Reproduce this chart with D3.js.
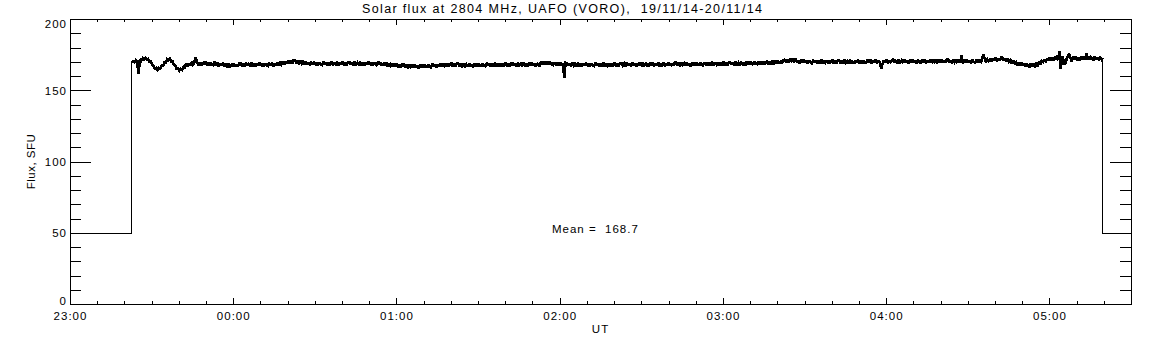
<!DOCTYPE html>
<html><head><meta charset="utf-8">
<script src="https://cdn.jsdelivr.net/npm/d3@7"></script>
<style>
html,body{margin:0;padding:0;background:#fff;}
svg{display:block;}
</style></head><body>
<svg id="chart" width="1152" height="345"></svg>
<script>
// ---------- data ----------
const titleText = "Solar flux at 2804 MHz, UAFO (VORO),  19/11/14-20/11/14";
const xAxisTitle = "UT";
const yAxisTitle = "Flux, SFU";
const meanLabel = "Mean =  168.7";
const xDomain = ["2014-11-19T23:00:00Z", "2014-11-20T05:30:00Z"];
const yDomain = [0, 200];
const yMajorTicks = [0, 50, 100, 150, 200];
const yMinorStep = 10;
const xMajorTicks = ["23:00", "00:00", "01:00", "02:00", "03:00", "04:00", "05:00"];
const xMinorMinutes = 10;
const offLevel = 50;
const fluxStart = "2014-11-19T23:22:30Z";
const fluxEnd = "2014-11-20T05:19:30Z";
const fluxStepSeconds = 30;
const flux = [
170.0,170.9,170.1,171.5,170.4,161.5,172.1,171.2,172.8,172.0,173.2,171.7,172.3,170.3,170.5,168.1,167.7,165.6,166.1,164.6,
165.9,165.4,167.5,167.4,169.8,169.8,172.1,171.5,172.6,170.6,170.5,167.9,167.8,165.4,165.7,164.0,165.3,164.7,166.8,166.5,
168.9,167.4,169.4,167.4,170.2,168.3,169.7,173.4,170.3,168.0,169.5,167.6,170.1,168.3,170.5,168.1,169.8,167.8,170.0,168.5,
168.0,170.2,168.1,169.8,167.2,169.1,167.5,169.7,167.0,168.9,167.4,169.1,166.6,168.7,167.0,169.3,166.8,168.6,167.0,169.2,
169.2,167.2,169.0,166.8,169.5,167.5,168.9,167.1,169.5,167.2,168.7,166.8,169.4,167.6,169.8,167.4,169.1,167.1,169.3,167.8,
167.3,169.6,167.7,169.5,167.1,169.1,167.7,170.1,167.6,169.7,168.4,170.4,168.1,170.5,169.0,171.5,169.0,170.9,169.3,171.5,
171.5,169.4,171.0,168.7,171.3,169.2,170.4,168.5,170.8,168.4,169.8,167.8,170.2,168.3,170.5,168.1,169.8,167.8,170.0,168.5,
168.0,170.3,168.3,170.1,167.6,169.6,168.1,170.4,167.8,169.8,168.4,170.2,167.7,169.9,168.2,170.5,167.9,169.7,168.0,170.2,
170.2,168.2,169.9,167.7,170.4,168.4,169.7,167.9,170.3,168.0,169.5,167.6,170.1,168.3,170.5,168.1,169.8,167.8,170.0,168.5,
168.0,170.3,168.3,170.1,167.5,169.4,167.8,170.0,167.3,169.2,167.7,169.4,166.8,168.9,167.1,169.3,166.6,168.3,166.5,168.6,
168.4,166.4,168.1,165.9,168.6,166.6,167.9,166.1,168.5,166.2,167.7,165.8,168.3,166.5,168.7,166.3,168.0,166.0,168.2,166.7,
166.4,168.8,166.8,168.7,166.3,168.3,166.9,169.3,166.7,168.8,167.4,169.3,166.8,169.1,167.4,169.7,167.0,168.8,167.0,169.2,
169.1,167.1,168.8,166.6,169.3,167.3,168.6,166.8,169.2,166.9,168.4,166.5,169.0,167.2,169.4,167.0,168.7,166.7,168.9,167.4,
167.2,169.5,167.5,169.3,166.8,168.8,167.3,169.6,167.0,169.0,167.6,169.4,166.9,169.1,167.4,169.7,167.1,168.9,167.2,169.4,
169.6,167.6,169.3,167.1,169.8,167.8,169.1,167.3,169.7,167.4,168.9,167.0,169.5,167.7,169.9,167.5,169.2,167.2,169.4,167.9,
167.8,170.4,168.6,170.6,168.2,170.2,168.6,170.8,168.1,170.0,168.4,170.1,167.5,169.6,167.8,170.0,167.4,169.1,159.0,169.6,
169.5,167.5,169.2,167.0,169.7,167.7,169.0,167.2,169.6,167.3,168.8,166.9,169.4,167.6,169.8,167.4,169.1,167.1,169.3,167.8,
167.2,169.5,167.5,169.3,166.8,168.8,167.3,169.6,167.0,169.0,167.6,169.4,166.9,169.1,167.4,169.7,167.1,168.9,167.2,169.4,
169.5,167.8,169.1,167.2,169.9,167.6,169.3,167.0,169.6,167.5,169.1,166.9,169.4,167.8,169.7,167.3,169.0,167.4,169.5,167.7,
167.5,169.8,167.8,169.6,167.1,169.1,167.6,169.9,167.3,169.3,167.9,169.7,167.2,169.4,167.7,170.0,167.4,169.2,167.5,169.7,
169.8,167.8,169.5,167.3,170.0,168.0,169.3,167.5,169.9,167.6,169.1,167.2,169.7,167.9,170.1,167.7,169.4,167.4,169.6,168.1,
167.8,170.1,168.1,169.9,167.4,169.4,167.9,170.2,167.6,169.6,168.2,170.0,167.5,169.7,168.0,170.3,167.7,169.5,167.8,170.0,
170.2,168.2,169.9,167.7,170.5,168.5,169.8,168.0,170.4,168.1,169.7,167.8,170.3,168.5,170.8,168.4,170.1,168.1,170.3,168.8,
168.5,170.8,168.8,170.7,168.2,170.2,168.8,171.1,168.5,170.6,169.2,171.0,168.6,170.9,169.2,171.5,168.9,170.8,169.2,171.4,
171.7,169.9,171.8,169.8,172.6,170.7,172.0,170.1,172.4,170.0,171.4,169.4,171.8,169.9,172.0,169.6,171.2,169.2,171.4,169.9,
169.3,171.6,169.6,171.4,168.9,170.9,169.4,171.7,169.1,171.1,169.7,171.5,169.0,171.2,169.5,171.8,169.2,171.0,169.3,171.5,
171.5,169.5,171.2,169.0,171.7,169.7,171.0,169.2,171.6,169.3,170.8,168.9,171.4,169.6,171.8,169.4,171.1,169.1,171.3,169.8,
169.5,171.8,169.8,171.6,169.1,171.1,169.6,171.9,169.3,171.3,169.9,165.5,169.2,171.4,169.7,172.0,169.4,171.2,169.5,171.7,
171.8,169.8,171.5,169.3,172.0,170.0,171.3,169.5,171.9,169.6,171.1,169.2,171.7,169.9,172.1,169.7,171.4,169.4,171.6,170.1,
169.7,172.0,170.0,171.8,169.3,171.3,169.8,172.1,169.5,171.5,170.1,171.9,169.4,171.6,169.9,172.2,169.6,171.4,169.7,171.9,
171.8,169.8,171.5,169.3,172.0,170.0,171.3,169.5,171.9,169.6,174.6,169.2,171.7,169.9,172.1,169.7,171.4,169.4,171.6,170.1,
169.7,172.0,170.1,171.9,169.5,171.5,175.3,172.5,170.0,172.1,170.8,172.7,170.3,172.6,171.0,173.4,170.8,172.7,171.0,173.2,
173.2,171.1,172.6,170.2,172.7,170.4,171.4,169.3,171.4,168.8,170.0,167.9,170.1,168.1,170.1,167.5,169.1,166.9,169.0,167.4,
166.8,169.0,167.0,168.9,166.6,168.9,167.8,170.5,168.4,170.9,170.0,172.2,170.1,172.6,171.1,173.6,171.1,173.0,171.4,173.6,
173.9,171.5,177.5,165.5,174.2,171.8,168.0,171.2,174.1,176.0,173.1,170.8,173.8,171.6,174.3,171.4,173.5,171.0,173.7,172.0,
174.2,171.6,176.5,171.8,174.4,172.0,173.6,171.5,174.1,171.7,173.5,171.4,173.8,171.8,173.0
];

// ---------- layout ----------
const svg = d3.select("#chart");
const L = 70, R = 1131, T = 19, B = 304;
const fontFamily = '"Liberation Sans", Arial, sans-serif';

const x = d3.scaleUtc().domain(xDomain.map(d => new Date(d))).range([L, R]);
const y = d3.scaleLinear().domain(yDomain).range([B, T]);

const d0 = new Date(xDomain[0]), d1 = new Date(xDomain[1]);
const majorDates = xMajorTicks.map(s => {
  const h = +s.split(":")[0];
  const day = h >= 12 ? "2014-11-19" : "2014-11-20";
  return new Date(`${day}T${s}:00Z`);
});
const majorSet = new Set(majorDates.map(d => +d));
const minorDates = d3.utcMinute.every(xMinorMinutes).range(d0, d1).filter(d => !majorSet.has(+d));
const yMinor = d3.range(yDomain[0], yDomain[1] + 1, yMinorStep).filter(v => !yMajorTicks.includes(v));
const fmt = d3.utcFormat("%H:%M");

function styleAxis(g) {
  g.select(".domain").remove();
  g.attr("font-family", fontFamily).attr("font-size", 11.5);
  g.selectAll("line").attr("stroke", "#000").attr("shape-rendering", "crispEdges");
  g.selectAll("text").attr("fill", "#000").attr("letter-spacing", 1);
}

// bottom
svg.append("g").attr("transform", `translate(0,${B})`)
  .call(d3.axisBottom(x).tickValues(minorDates).tickSize(-3).tickFormat(""))
  .call(styleAxis);
svg.append("g").attr("transform", `translate(0,${B})`)
  .call(d3.axisBottom(x).tickValues(majorDates).tickSize(-6).tickFormat(fmt))
  .call(styleAxis)
  .call(g => g.selectAll("text").attr("y", 16).attr("dy", 0));
// top
svg.append("g").attr("transform", `translate(0,${T})`)
  .call(d3.axisTop(x).tickValues(minorDates).tickSize(-3).tickFormat(""))
  .call(styleAxis);
svg.append("g").attr("transform", `translate(0,${T})`)
  .call(d3.axisTop(x).tickValues(majorDates).tickSize(-6).tickFormat(""))
  .call(styleAxis);
// left
svg.append("g").attr("transform", `translate(${L},0)`)
  .call(d3.axisLeft(y).tickValues(yMinor).tickSize(-11).tickFormat(""))
  .call(styleAxis);
svg.append("g").attr("transform", `translate(${L},0)`)
  .call(d3.axisLeft(y).tickValues(yMajorTicks).tickSize(-21).tickPadding(3).tickFormat(d3.format("d")))
  .call(styleAxis)
  .call(g => g.selectAll("text")
    .attr("dy", d => d === yDomain[0] ? "0em" : d === yDomain[1] ? "0.7em" : "0.36em"));
// right
svg.append("g").attr("transform", `translate(${R},0)`)
  .call(d3.axisRight(y).tickValues(yMinor).tickSize(-11).tickFormat(""))
  .call(styleAxis);
svg.append("g").attr("transform", `translate(${R},0)`)
  .call(d3.axisRight(y).tickValues(yMajorTicks).tickSize(-21).tickFormat(""))
  .call(styleAxis);

// frame
svg.append("rect")
  .attr("x", L + 0.5).attr("y", T + 0.5)
  .attr("width", R - L).attr("height", B - T)
  .attr("fill", "none").attr("stroke", "#000").attr("shape-rendering", "crispEdges");

// data
const tStart = new Date(fluxStart), tEnd = new Date(fluxEnd);
const fluxPts = flux.map((v, i) => [new Date(+tStart + i * fluxStepSeconds * 1000), v]);
const line = d3.line().x(d => x(d[0])).y(d => y(d[1]));
const plotG = svg.append("g").attr("transform", "translate(0.5,0.5)");
// receiver-off segments (1 px)
plotG.append("path")
  .datum([[d0, offLevel], [tStart, offLevel], [tStart, flux[0]]])
  .attr("fill", "none").attr("stroke", "#000").attr("stroke-width", 1)
  .attr("shape-rendering", "crispEdges").attr("d", line);
plotG.append("path")
  .datum([[tEnd, flux[flux.length - 1]], [tEnd, offLevel], [d1, offLevel]])
  .attr("fill", "none").attr("stroke", "#000").attr("stroke-width", 1)
  .attr("shape-rendering", "crispEdges").attr("d", line);
// flux series
plotG.append("path")
  .datum(fluxPts)
  .attr("fill", "none").attr("stroke", "#000").attr("stroke-width", 2.6)
  .attr("stroke-linejoin", "miter").attr("stroke-miterlimit", 2)
  .attr("shape-rendering", "crispEdges")
  .attr("d", line);

// texts
svg.append("text")
  .attr("x", 362).attr("y", 13)
  .attr("font-family", fontFamily).attr("font-size", 12.5)
  .attr("textLength", 400).attr("lengthAdjust", "spacing")
  .style("white-space", "pre")
  .text(titleText);

svg.append("text")
  .attr("x", (L + R) / 2).attr("y", 333)
  .attr("text-anchor", "middle")
  .attr("font-family", fontFamily).attr("font-size", 11.5).attr("letter-spacing", 1)
  .text(xAxisTitle);

svg.append("text")
  .attr("transform", `translate(35,${(T + B) / 2}) rotate(-90)`)
  .attr("text-anchor", "middle")
  .attr("font-family", fontFamily).attr("font-size", 11.5).attr("letter-spacing", 0.5)
  .text(yAxisTitle);

svg.append("text")
  .attr("x", 552).attr("y", 233)
  .attr("font-family", fontFamily).attr("font-size", 11.5).attr("letter-spacing", 1)
  .style("white-space", "pre")
  .text(meanLabel);
</script>
</body></html>
